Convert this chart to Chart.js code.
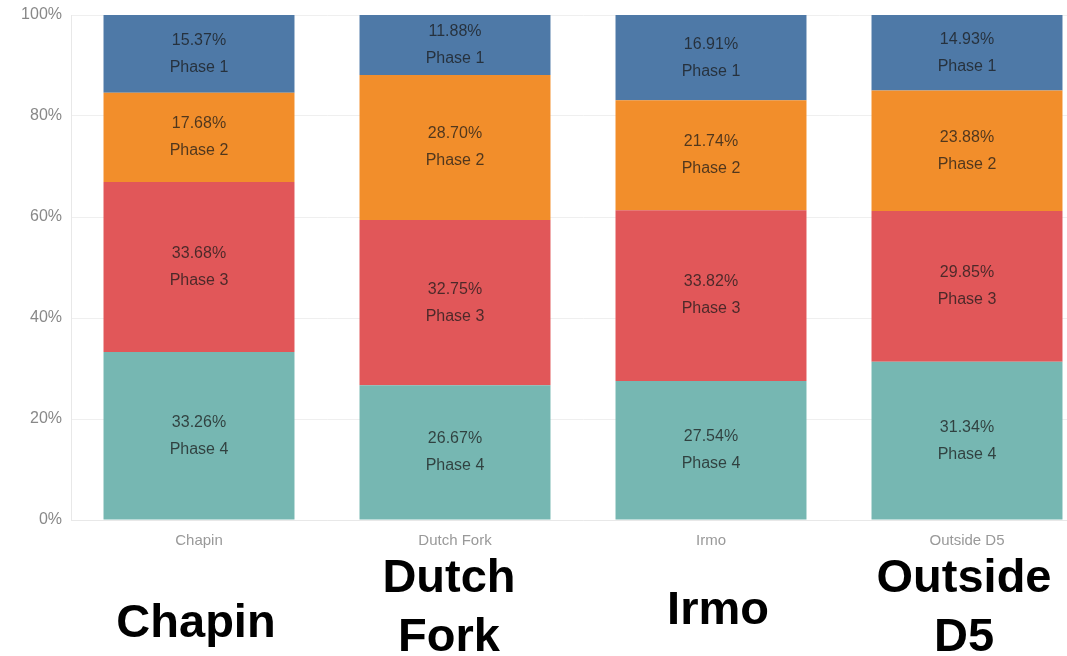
<!DOCTYPE html>
<html>
<head>
<meta charset="utf-8">
<script src="https://cdn.jsdelivr.net/npm/chart.js@4.4.0/dist/chart.umd.min.js"></script>
<style>
  html, body { margin: 0; padding: 0; background: #fff; overflow: hidden; }
  #wrap { position: absolute; left: 0; top: 0; width: 1100px; height: 656px; }
</style>
</head>
<body>
<div id="wrap"><canvas id="phaseChart" width="1100" height="656"></canvas></div>
<script>
// categories + series (percent of each school)
const schools = ['Chapin', 'Dutch Fork', 'Irmo', 'Outside D5'];
const phase1 = [15.37, 11.88, 16.91, 14.93];
const phase2 = [17.68, 28.70, 21.74, 23.88];
const phase3 = [33.68, 32.75, 33.82, 29.85];
const phase4 = [33.26, 26.67, 27.54, 31.34];
const yTicks = [0, 20, 40, 60, 80, 100];
// big captions under the axis
const captions = [['Chapin'], ['Dutch', 'Fork'], ['Irmo'], ['Outside', 'D5']];

const FONT = '"Liberation Sans", Arial, sans-serif';

// labels inside each segment: value + phase name
const segmentLabels = {
    id: 'segmentLabels',
    afterDatasetsDraw(chart) {
        const ctx = chart.ctx;
        ctx.save();
        ctx.font = '16px ' + FONT;
        ctx.fillStyle = 'rgba(25,25,25,0.75)';
        ctx.textAlign = 'center';
        ctx.textBaseline = 'middle';
        chart.data.datasets.forEach((ds, i) => {
            chart.getDatasetMeta(i).data.forEach((bar, j) => {
                const cy = (bar.y + bar.base) / 2;
                ctx.fillText(ds.data[j].toFixed(2) + '%', bar.x, cy - 13.5);
                ctx.fillText(ds.label, bar.x, cy + 13.5);
            });
        });
        ctx.restore();
    }
};

// large bold school names at the bottom
const bigCaptions = {
    id: 'bigCaptions',
    afterDraw(chart) {
        const ctx = chart.ctx;
        const x = chart.scales.x;
        const baselines = [[637], [592, 651], [624], [592, 651]];
        const dx = [-3, -6, 7, -3];
        ctx.save();
        ctx.font = 'bold 47px ' + FONT;
        ctx.fillStyle = '#000';
        ctx.textAlign = 'center';
        ctx.textBaseline = 'alphabetic';
        captions.forEach((lines, i) => {
            const cx = x.getPixelForValue(i) + dx[i];
            lines.forEach((t, k) => ctx.fillText(t, cx, baselines[i][k]));
        });
        ctx.restore();
    }
};

new Chart(document.getElementById('phaseChart'), {
    type: 'bar',
    data: {
        labels: schools,
        datasets: [
            { label: 'Phase 4', data: phase4, backgroundColor: '#76b7b2' },
            { label: 'Phase 3', data: phase3, backgroundColor: '#e15759' },
            { label: 'Phase 2', data: phase2, backgroundColor: '#f28e2b' },
            { label: 'Phase 1', data: phase1, backgroundColor: '#4e79a7' }
        ]
    },
    options: {
        responsive: false,
        animation: false,
        categoryPercentage: 0.746,
        barPercentage: 1,
        layout: { padding: { top: 15, right: 5, left: 0, bottom: 0 } },
        plugins: { legend: { display: false }, tooltip: { enabled: false } },
        scales: {
            x: {
                stacked: true,
                grid: { display: false },
                border: { display: true, color: '#e8e8e8' },
                ticks: { color: '#999', font: { family: FONT, size: 15 }, padding: 4 },
                afterFit: s => { s.height = 136; }
            },
            y: {
                stacked: true,
                min: 0,
                max: 100,
                afterBuildTicks: s => { s.ticks = yTicks.map(v => ({ value: v })); },
                grid: { color: '#efefef', drawTicks: false },
                border: { display: true, color: '#e8e8e8' },
                ticks: { color: '#888', font: { family: FONT, size: 16 }, padding: 9, callback: v => v + '%' },
                afterFit: s => { s.width = 71; s.paddingTop = 0; s.paddingBottom = 0; }
            }
        }
    },
    plugins: [segmentLabels, bigCaptions]
});
</script>
</body>
</html>
